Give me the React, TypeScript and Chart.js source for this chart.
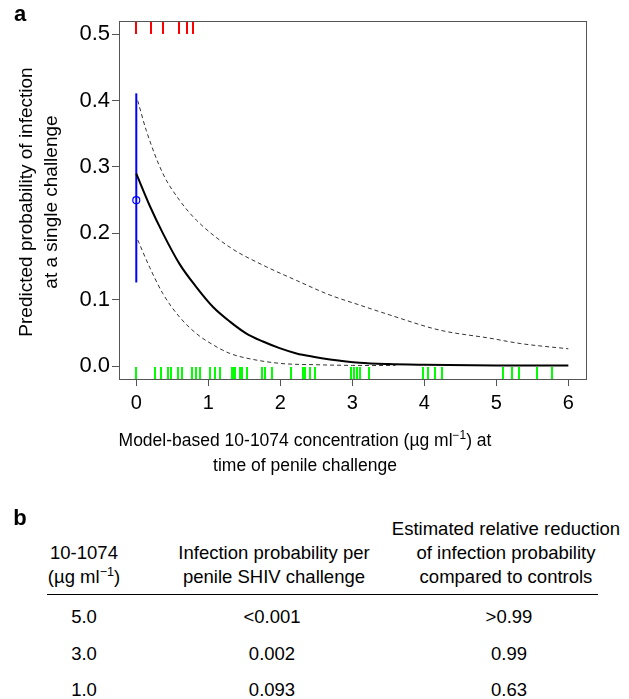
import React, { useEffect, useRef } from "react";
import { Chart, registerables } from "chart.js";

Chart.register(...registerables);

// ---------- data ----------
const meanCurveX = [0, 0.185, 0.37, 0.6, 0.834, 1.066, 1.3, 1.53, 1.76, 1.99, 2.225, 2.456, 2.69, 3.1, 3.5, 4.0, 5.0, 6.0];
const meanCurveY = [0.29, 0.242, 0.2, 0.154, 0.119, 0.089, 0.067, 0.049, 0.037, 0.027, 0.019, 0.014, 0.01, 0.005, 0.003, 0.002, 0.001, 0.0008];

const upperBandX = [0.02, 0.139, 0.37, 0.6, 0.834, 1.3, 1.76, 2.225, 2.69, 3.1, 3.52, 4.22, 4.91, 5.33, 6.0];
const upperBandY = [0.4, 0.355, 0.29, 0.25, 0.22, 0.179, 0.152, 0.129, 0.107, 0.092, 0.077, 0.054, 0.042, 0.034, 0.026];

const lowerBandX = [0.02, 0.185, 0.37, 0.6, 0.834, 1.066, 1.3, 1.53, 2.0, 2.5, 3.0, 3.6];
const lowerBandY = [0.19, 0.149, 0.109, 0.074, 0.049, 0.032, 0.019, 0.012, 0.004, 0.002, 0.001, 0.0008];

const controlX = [0];
const controlP = [0.25];
const controlLow = [0.126];
const controlHigh = [0.411];

// rug: infected (top, red) and uninfected (bottom, green) challenge concentrations
const infectedConc = [0, 0.209, 0.37, 0.588, 0.709, 0.787];
const uninfectedConc = [
  0, 0.264, 0.347, 0.44, 0.487, 0.584, 0.63, 0.778, 0.834, 0.89, 1.02, 1.094, 1.158, 1.335, 1.353, 1.372,
  1.446, 1.474, 1.54, 1.752, 1.789, 1.89, 2.15, 2.31, 2.336, 2.41, 2.484, 2.976, 3.02, 3.07, 3.105, 3.235,
  3.98, 4.05, 4.15, 4.246, 5.09, 5.22, 5.31, 5.57, 5.77,
];

const xTickValues = [0, 1, 2, 3, 4, 5, 6];
const yTickValues = [0, 0.1, 0.2, 0.3, 0.4, 0.5];

const tableConc = ["5.0", "3.0", "1.0"];
const tableProb = ["<0.001", "0.002", "0.093"];
const tableReduction = [">0.99", "0.99", "0.63"];

const FONT = '"Liberation Sans", Arial, Helvetica, sans-serif';

function pts(xs: number[], ys: number[]) {
  return xs.map((x, i) => ({ x, y: ys[i] }));
}

const framePlugin = {
  id: "frameAndRug",
  afterDatasetsDraw(chart: any) {
    const { ctx, chartArea, scales } = chart;
    const xs = scales.x;
    ctx.save();
    // rugs
    ctx.lineWidth = 2;
    ctx.strokeStyle = "#00ff00";
    uninfectedConc.forEach((v) => {
      const px = Math.round(xs.getPixelForValue(v));
      ctx.beginPath();
      ctx.moveTo(px, chartArea.bottom);
      ctx.lineTo(px, chartArea.bottom - 12);
      ctx.stroke();
    });
    ctx.strokeStyle = "#ff0000";
    infectedConc.forEach((v) => {
      const px = Math.round(xs.getPixelForValue(v));
      ctx.beginPath();
      ctx.moveTo(px, chartArea.top);
      ctx.lineTo(px, chartArea.top + 13);
      ctx.stroke();
    });
    // frame
    ctx.lineWidth = 1;
    ctx.strokeStyle = "#555";
    ctx.strokeRect(
      Math.round(chartArea.left) + 0.5,
      Math.round(chartArea.top) + 0.5,
      Math.round(chartArea.right - chartArea.left),
      Math.round(chartArea.bottom - chartArea.top)
    );
    ctx.restore();
  },
};

function PlotA() {
  const ref = useRef<HTMLCanvasElement | null>(null);
  useEffect(() => {
    if (!ref.current) return;
    const chart = new Chart(ref.current, {
      type: "scatter",
      data: {
        datasets: [
          {
            data: pts(upperBandX, upperBandY),
            showLine: true,
            borderColor: "#333",
            borderWidth: 1,
            borderDash: [4, 3],
            pointRadius: 0,
            cubicInterpolationMode: "monotone",
          },
          {
            data: pts(lowerBandX, lowerBandY),
            showLine: true,
            borderColor: "#333",
            borderWidth: 1,
            borderDash: [4, 3],
            pointRadius: 0,
            cubicInterpolationMode: "monotone",
          },
          {
            data: pts(meanCurveX, meanCurveY),
            showLine: true,
            borderColor: "#000",
            borderWidth: 2,
            pointRadius: 0,
            cubicInterpolationMode: "monotone",
          },
          {
            data: [
              { x: controlX[0], y: controlLow[0] },
              { x: controlX[0], y: controlHigh[0] },
            ],
            showLine: true,
            borderColor: "#0000ff",
            borderWidth: 2,
            pointRadius: 0,
          },
          {
            data: pts(controlX, controlP),
            showLine: false,
            pointRadius: 3.5,
            pointBorderColor: "#0000ff",
            pointBackgroundColor: "rgba(0,0,0,0)",
            pointBorderWidth: 1.2,
          },
        ],
      } as any,
      options: {
        responsive: false,
        animation: false,
        layout: { padding: { left: 0, right: 43, top: 21, bottom: 0 } },
        plugins: { legend: { display: false }, tooltip: { enabled: false } },
        scales: {
          x: {
            type: "linear",
            min: -0.24,
            max: 6.245,
            afterBuildTicks: (s: any) => {
              s.ticks = xTickValues.map((v) => ({ value: v }));
            },
            afterFit: (s: any) => {
              s.height = 101;
            },
            grid: { drawOnChartArea: false, drawTicks: true, tickLength: 7, color: "#555" },
            border: { display: false },
            ticks: {
              color: "#000",
              font: { family: FONT, size: 20 },
              padding: 5,
              maxRotation: 0,
              autoSkip: false,
              callback: (v: any) => String(v),
            },
          },
          y: {
            type: "linear",
            min: -0.0195,
            max: 0.52,
            afterBuildTicks: (s: any) => {
              s.ticks = yTickValues.map((v) => ({ value: v }));
            },
            afterFit: (s: any) => {
              s.width = 119;
            },
            grid: { drawOnChartArea: false, drawTicks: true, tickLength: 7, color: "#555" },
            border: { display: false },
            ticks: {
              color: "#000",
              font: { family: FONT, size: 22 },
              padding: 2,
              autoSkip: false,
              callback: (v: any) => Number(v).toFixed(1),
            },
          },
        },
      } as any,
      plugins: [framePlugin],
    });
    return () => chart.destroy();
  }, []);
  return (
    <canvas
      ref={ref}
      width={629}
      height={480}
      style={{ position: "absolute", left: 0, top: 0, width: 629, height: 480 }}
    />
  );
}

function T(props: { x: number; y: number; size?: number; bold?: boolean; children: React.ReactNode }) {
  return (
    <div
      style={{
        position: "absolute",
        left: props.x,
        top: props.y,
        transform: "translate(-50%, -50%)",
        whiteSpace: "nowrap",
        fontFamily: FONT,
        fontSize: props.size ?? 18.5,
        fontWeight: props.bold ? "bold" : "normal",
        color: "#000",
        lineHeight: 1,
        textAlign: "center",
      }}
    >
      {props.children}
    </div>
  );
}

const Sup = () => (
  <sup style={{ fontSize: "0.68em", lineHeight: 0, verticalAlign: "0.55em" }}>−1</sup>
);

export default function App() {
  const rowY = [617, 654, 690];
  return (
    <div
      style={{
        position: "absolute",
        left: 0,
        top: 0,
        width: 629,
        height: 699,
        background: "#fff",
        overflow: "hidden",
      }}
    >
      <PlotA />
      <T x={20} y={14} size={22} bold>
        a
      </T>
      {/* y-axis title */}
      <div
        style={{
          position: "absolute",
          left: 38,
          top: 202,
          transform: "translate(-50%, -50%) rotate(-90deg)",
          whiteSpace: "nowrap",
          fontFamily: FONT,
          fontSize: 19,
          lineHeight: "25px",
          textAlign: "center",
        }}
      >
        Predicted probability of infection
        <br />
        at a single challenge
      </div>
      {/* x-axis title */}
      <div
        style={{
          position: "absolute",
          left: 305,
          top: 453,
          transform: "translate(-50%, -50%)",
          whiteSpace: "nowrap",
          fontFamily: FONT,
          fontSize: 17.5,
          lineHeight: "25px",
          textAlign: "center",
        }}
      >
        Model-based 10-1074 concentration (µg ml<Sup />) at
        <br />
        time of penile challenge
      </div>

      {/* panel b */}
      <T x={20} y={518} size={22} bold>
        b
      </T>
      <T x={84} y={553}>10-1074</T>
      <T x={84} y={577}>
        (µg ml<Sup />)
      </T>
      <T x={274} y={553}>Infection probability per</T>
      <T x={274} y={577}>penile SHIV challenge</T>
      <T x={506} y={529}>Estimated relative reduction</T>
      <T x={506} y={553}>of infection probability</T>
      <T x={506} y={577}>compared to controls</T>
      <div
        style={{
          position: "absolute",
          left: 47,
          top: 594,
          width: 551,
          height: 0,
          borderTop: "1.5px solid #000",
        }}
      />
      {tableConc.map((c, i) => (
        <T key={"c" + i} x={84} y={rowY[i]}>
          {c}
        </T>
      ))}
      {tableProb.map((c, i) => (
        <T key={"p" + i} x={272} y={rowY[i]}>
          {c}
        </T>
      ))}
      {tableReduction.map((c, i) => (
        <T key={"r" + i} x={509} y={rowY[i]}>
          {c}
        </T>
      ))}
    </div>
  );
}
